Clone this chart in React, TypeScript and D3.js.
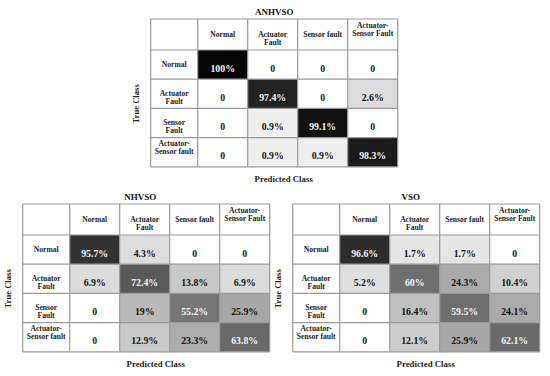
import * as d3 from 'd3';

const colLabels = [['Normal'], ['Actuator', 'Fault'], ['Sensor fault'], ['Actuator-', 'Sensor Fault']];
const rowLabels = [['Normal'], ['Actuator', 'Fault'], ['Sensor', 'Fault'], ['Actuator-', 'Sensor fault']];

const anhvso = [
    [100, 0, 0, 0],
    [0, 97.4, 0, 2.6],
    [0, 0.9, 99.1, 0],
    [0, 0.9, 0.9, 98.3],
];
const nhvso = [
    [95.7, 4.3, 0, 0],
    [6.9, 72.4, 13.8, 6.9],
    [0, 19, 55.2, 25.9],
    [0, 12.9, 23.3, 63.8],
];
const vso = [
    [96.6, 1.7, 1.7, 0],
    [5.2, 60, 24.3, 10.4],
    [0, 16.4, 59.5, 24.1],
    [0, 12.1, 25.9, 62.1],
];

const W = 550;
const H = 376;
const FONT = '"Liberation Serif", "Times New Roman", serif';

// table geometry
const tableW = 247;
const headW = 47;
const headH = 31;
const rowH = 29.2;

// value -> gray level
const grayLevel = d3
    .scaleLinear<number>()
    .domain([0, 0.5, 1, 3, 5, 12, 25, 60, 73, 96, 98.5, 100])
    .range([255, 245, 238, 215, 224, 205, 168, 110, 88, 50, 24, 6])
    .clamp(true);

const fill = (v: number) => {
    const g = Math.round(grayLevel(v));
    return d3.rgb(g, g, g).toString();
};

interface PanelProps {
    title: string;
    data: number[][];
    x: number;
    y: number;
    titleDx: number;
}

function Matrix({ title, data, x, y, titleDx }: PanelProps) {
    const idx = d3.range(4);
    const cx = d3.scaleBand<number>().domain(idx).range([headW, tableW]);
    const ry = d3.scaleBand<number>().domain(idx).range([headH, headH + rowH * 4]);
    const tableH = headH + rowH * 4;

    const lineY = (lines: string[], top: number, h: number) => {
        // hyphen-broken labels hang from the top, others start at the middle
        if (lines.length > 1 && lines[0].endsWith('-')) return top + 6.8;
        return top + h / 2;
    };

    return (
        <g transform={`translate(${x},${y})`} fontFamily={FONT} fontWeight="bold">
            <text x={tableW / 2 + titleDx} y={-6.5} textAnchor="middle" dominantBaseline="middle" fontSize={9} fill="#111">
                {title}
            </text>

            {data.map((row, i) =>
                row.map((v, j) => (
                    <g key={`${i}-${j}`}>
                        <rect x={cx(j)!} y={ry(i)!} width={cx.bandwidth()} height={ry.bandwidth()} fill={fill(v)} />
                        <text
                            x={cx(j)! + cx.bandwidth() / 2}
                            y={ry(i)! + ry.bandwidth() * 0.67}
                            textAnchor="middle"
                            dominantBaseline="middle"
                            fontSize={9.8}
                            fill={v >= 50 ? '#f4f4f4' : '#151515'}
                        >
                            {v === 0 ? '0' : `${v}%`}
                        </text>
                    </g>
                ))
            )}

            {/* grid */}
            {[0, ...idx.map((j) => cx(j)!), tableW].map((gx, k) => (
                <line key={`v${k}`} x1={gx} x2={gx} y1={0} y2={tableH} stroke="#9a9a9a" strokeWidth={1.2} />
            ))}
            {[0, ...idx.map((i) => ry(i)!), tableH].map((gy, k) => (
                <line key={`h${k}`} x1={0} x2={tableW} y1={gy} y2={gy} stroke="#9a9a9a" strokeWidth={1.2} />
            ))}

            {colLabels.map((lines, j) => {
                const y0 = lineY(lines, 0, headH);
                return (
                    <text key={`c${j}`} textAnchor="middle" dominantBaseline="middle" fontSize={7.6} fill="#222">
                        {lines.map((l, k) => (
                            <tspan key={k} x={cx(j)! + cx.bandwidth() / 2} y={y0 + k * 8.3}>
                                {l}
                            </tspan>
                        ))}
                    </text>
                );
            })}
            {rowLabels.map((lines, i) => {
                const y0 = lineY(lines, ry(i)!, ry.bandwidth());
                return (
                    <text key={`r${i}`} textAnchor="middle" dominantBaseline="middle" fontSize={7.6} fill="#222">
                        {lines.map((l, k) => (
                            <tspan key={k} x={headW / 2} y={y0 + k * 8}>
                                {l}
                            </tspan>
                        ))}
                    </text>
                );
            })}

            <text x={tableW / 2 + 9.5} y={tableH + 13.3} textAnchor="middle" dominantBaseline="middle" fontSize={8.8} fill="#222">
                Predicted Class
            </text>
            <text
                transform={`translate(-13.2,${tableH / 2 + 11}) rotate(-90)`}
                textAnchor="middle"
                dominantBaseline="middle"
                fontSize={8.6}
                fill="#222"
            >
                True Class
            </text>
        </g>
    );
}

export default function App() {
    return (
        <svg width={W} height={H} style={{ position: 'absolute', left: 0, top: 0, background: '#fff' }}>
            <rect width={W} height={H} fill="#fff" />
            <Matrix title="ANHVSO" data={anhvso} x={150.7} y={19} titleDx={0} />
            <Matrix title="NHVSO" data={nhvso} x={22.7} y={204} titleDx={-6} />
            <Matrix title="VSO" data={vso} x={292.7} y={204} titleDx={-5.5} />
        </svg>
    );
}
